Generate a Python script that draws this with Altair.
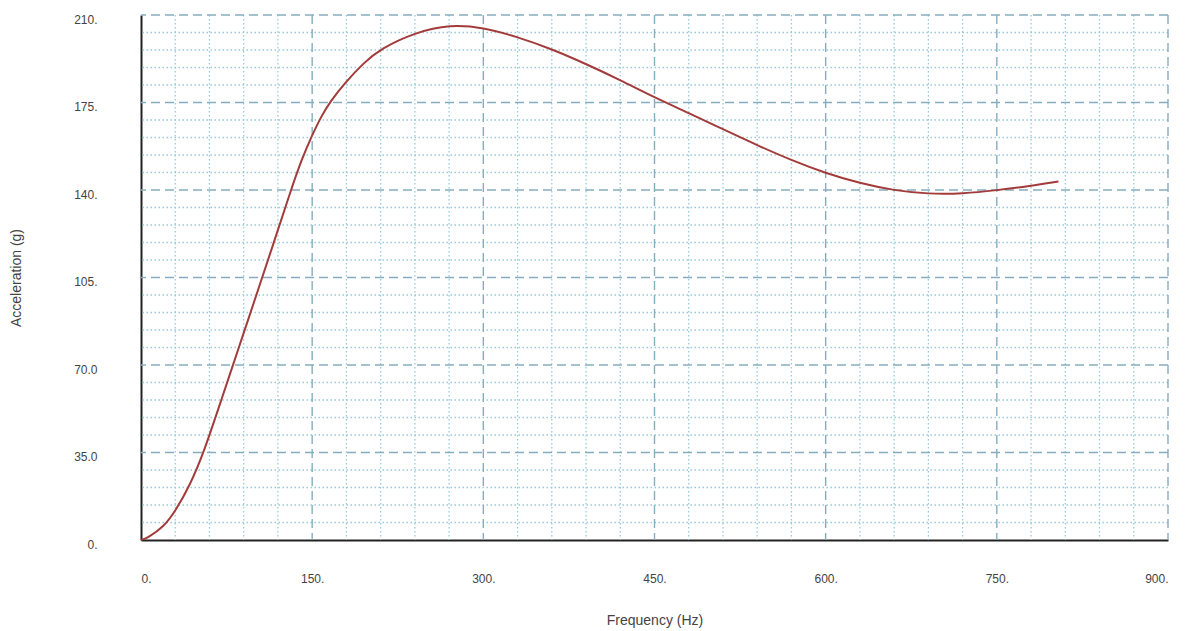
import altair as alt
import pandas as pd

# Curve
freq = [0, 6, 20, 30, 43, 55, 70, 85, 100, 115, 131, 141, 150, 158, 166, 179, 195, 210,
        240, 271, 300, 329, 360, 391, 420, 450, 480, 510, 540, 570, 600, 630,
        660, 690, 720, 750, 779, 804]
accel = [0, 0.9, 5.3, 11.5, 22, 35, 55.5, 76, 96.5, 117, 139.5, 152.5, 162, 169.5, 175.5, 183, 190.8, 196.5,
         203, 206.2, 205, 201.4, 196.4, 190.2, 184, 177, 170.8, 164.3, 157.9, 151.9, 146.7, 142.7,
         139.8, 138.4, 138.5, 139.9, 141.6, 143.4]

x_major = [150, 300, 450, 600, 750, 900]
y_major = [35, 70, 105, 140, 175, 210]
x_minor = [v for v in range(30, 900, 30) if v % 150 != 0]
y_minor = [v for v in range(7, 210, 7) if v % 35 != 0]
x_ticks = [0, 150, 300, 450, 600, 750, 900]
y_ticks = [0, 35, 70, 105, 140, 175, 210]

curve = pd.DataFrame({"f": freq, "a": accel})

xs = alt.Scale(domain=[0, 900], nice=False, zero=False)
ys = alt.Scale(domain=[0, 210], nice=False, zero=False)

FONT = "Liberation Sans"
MINOR = "#95cadd"
MAJOR = "#86adbd"

X_AXIS = alt.Axis(values=x_ticks, grid=False, ticks=False, domainColor="#222",
                  domainWidth=2, labelPadding=33, titlePadding=29,
                  labelExpr="datum.value + '.'")
Y_AXIS = alt.Axis(values=y_ticks, grid=False, ticks=False, domainColor="#222",
                  domainWidth=2, labelPadding=44, titlePadding=50, labelBaseline="top",
                  labelOffset=-1,
                  labelExpr="datum.value == 70 ? '70.0' : datum.value == 35 ? '35.0' : datum.value + '.'")
XT = "Frequency (Hz)"
YT = "Acceleration (g)"

vminor = alt.Chart(pd.DataFrame({"v": x_minor})).mark_rule(
    color=MINOR, strokeDash=[1.5, 2.5], strokeWidth=1.3
).encode(x=alt.X("v:Q", scale=xs, axis=X_AXIS, title=XT))
hminor = alt.Chart(pd.DataFrame({"v": y_minor})).mark_rule(
    color=MINOR, strokeDash=[1.5, 2.5], strokeWidth=1.3
).encode(y=alt.Y("v:Q", scale=ys, axis=Y_AXIS, title=YT))
vmajor = alt.Chart(pd.DataFrame({"v": x_major})).mark_rule(
    color=MAJOR, strokeDash=[9, 5], strokeWidth=1.4
).encode(x=alt.X("v:Q", scale=xs, axis=X_AXIS, title=XT))
hmajor = alt.Chart(pd.DataFrame({"v": y_major})).mark_rule(
    color=MAJOR, strokeDash=[9, 5], strokeWidth=1.4
).encode(y=alt.Y("v:Q", scale=ys, axis=Y_AXIS, title=YT))

line = alt.Chart(curve).mark_line(color="#a33b3b", strokeWidth=2, interpolate="basis").encode(
    x=alt.X("f:Q", scale=xs, title=XT, axis=X_AXIS),
    y=alt.Y("a:Q", scale=ys, title=YT, axis=Y_AXIS),
)

chart = alt.layer(vminor, hminor, vmajor, hmajor, line).properties(
    width=1027, height=525,
    autosize=alt.AutoSizeParams(type="none"),
    padding={"left": 133, "top": 7, "right": 10, "bottom": 90},
).configure_view(stroke=None).configure_axis(
    labelFont=FONT, titleFont=FONT, labelFontSize=12, titleFontSize=14,
    labelColor="#444", titleColor="#444", titleFontWeight="normal",
)

chart.save("out.html", embed_options={"renderer": "svg", "actions": False})
